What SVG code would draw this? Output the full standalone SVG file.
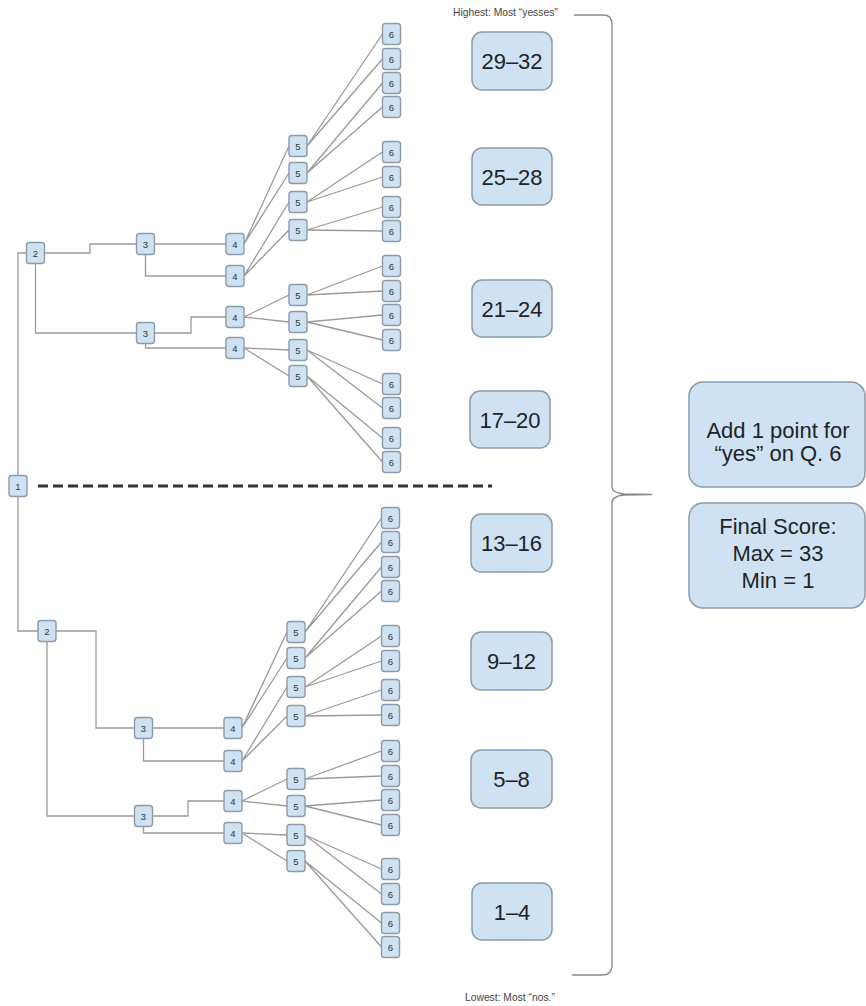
<svg xmlns="http://www.w3.org/2000/svg" width="866" height="1006" viewBox="0 0 866 1006">
<style>
.c{fill:none;stroke:#9a9a9a;stroke-width:1.3}
.n{fill:#cfe2f3;stroke:#8d9aa8;stroke-width:1.4}
.t{font-family:"Liberation Sans",Arial,sans-serif;font-size:9.5px;fill:#2e3640;text-anchor:middle}
.r{fill:#cfe2f3;stroke:#8d9aa8;stroke-width:1.5}
.rt{font-family:"Liberation Sans",Arial,sans-serif;font-size:22px;fill:#1f2328;text-anchor:middle}
.lab{font-family:"Liberation Sans",Arial,sans-serif;font-size:10.3px;fill:#444}
</style>
<rect width="866" height="1006" fill="#ffffff"/>
<g id="connectors">
<line x1="38" y1="486" x2="492" y2="486" stroke="#333" stroke-width="3" stroke-dasharray="10 5"/>
<path class="c" d="M18,475.5 V253 H26.5"/>
<path class="c" d="M44.5,253 H90 V244 H136.5"/>
<path class="c" d="M154.5,244 H226"/>
<path class="c" d="M145.5,254.5 V276 H226"/>
<path class="c" d="M35.5,263.5 V333 H136.5"/>
<path class="c" d="M154.5,333 H191 V317 H226"/>
<path class="c" d="M145.5,343.5 V348 H226"/>
<path class="c" d="M244,244 L289,146 M244,244 L289,173 M244,276 L289,202 M244,276 L289,230 M244,317 L289,295 M244,317 L289,322 M244,348 L289,350 M244,348 L289,376"/>
<path class="c" d="M307,146 L382.5,34 M307,146 L382.5,59 M307,173 L382.5,83 M307,173 L382.5,107 M307,202 L382.5,152 M307,202 L382.5,177 M307,230 L382.5,207 M307,230 L382.5,231 M307,295 L382.5,266 M307,295 L382.5,291 M307,322 L382.5,315 M307,322 L382.5,340 M307,350 L382.5,384 M307,350 L382.5,408 M307,376 L382.5,438 M307,376 L382.5,462"/>
<path class="c" d="M18,496.5 V631 H38"/>
<path class="c" d="M56,631 H96 V728 H134.5"/>
<path class="c" d="M152.5,728 H224"/>
<path class="c" d="M143.5,738.5 V761 H224"/>
<path class="c" d="M47,641.5 V816 H134.5"/>
<path class="c" d="M152.5,816 H188 V801 H224"/>
<path class="c" d="M143.5,826.5 V833 H224"/>
<path class="c" d="M242,728 L287,632 M242,728 L287,658 M242,761 L287,687 M242,761 L287,716 M242,801 L287,779 M242,801 L287,806 M242,833 L287,835 M242,833 L287,861"/>
<path class="c" d="M305,632 L381.5,518 M305,632 L381.5,542 M305,658 L381.5,567 M305,658 L381.5,591 M305,687 L381.5,636 M305,687 L381.5,661 M305,716 L381.5,690 M305,716 L381.5,715 M305,779 L381.5,751 M305,779 L381.5,776 M305,806 L381.5,800 M305,806 L381.5,825 M305,835 L381.5,869 M305,835 L381.5,894 M305,861 L381.5,923 M305,861 L381.5,947"/>
<path id="brace" d="M574,15 H603 Q612,15 612,24 V487 Q612,493 624,494 L652,494.5 L624,495 Q612,496 612,503 V965 Q612,975 602,975 H572" fill="none" stroke="#8a8a8a" stroke-width="1.3"/>
</g>
<g id="node1"><rect class="n" x="9" y="475.5" width="18" height="21" rx="3"/><text class="t" x="18" y="489.5">1</text></g>
<g id="node2a"><rect class="n" x="26.5" y="242.5" width="18" height="21" rx="3"/><text class="t" x="35.5" y="256.5">2</text></g>
<g id="node3a"><rect class="n" x="136.5" y="233.5" width="18" height="21" rx="3"/><text class="t" x="145.5" y="247.5">3</text></g>
<g id="node3b"><rect class="n" x="136.5" y="322.5" width="18" height="21" rx="3"/><text class="t" x="145.5" y="336.5">3</text></g>
<g id="node4a"><rect class="n" x="226" y="233.5" width="18" height="21" rx="3"/><text class="t" x="235" y="247.5">4</text></g>
<g id="node4b"><rect class="n" x="226" y="265.5" width="18" height="21" rx="3"/><text class="t" x="235" y="279.5">4</text></g>
<g id="node4c"><rect class="n" x="226" y="306.5" width="18" height="21" rx="3"/><text class="t" x="235" y="320.5">4</text></g>
<g id="node4d"><rect class="n" x="226" y="337.5" width="18" height="21" rx="3"/><text class="t" x="235" y="351.5">4</text></g>
<g id="node5a"><rect class="n" x="289" y="135.5" width="18" height="21" rx="3"/><text class="t" x="298" y="149.5">5</text></g>
<g id="node5b"><rect class="n" x="289" y="162.5" width="18" height="21" rx="3"/><text class="t" x="298" y="176.5">5</text></g>
<g id="node5c"><rect class="n" x="289" y="191.5" width="18" height="21" rx="3"/><text class="t" x="298" y="205.5">5</text></g>
<g id="node5d"><rect class="n" x="289" y="219.5" width="18" height="21" rx="3"/><text class="t" x="298" y="233.5">5</text></g>
<g id="node5e"><rect class="n" x="289" y="284.5" width="18" height="21" rx="3"/><text class="t" x="298" y="298.5">5</text></g>
<g id="node5f"><rect class="n" x="289" y="311.5" width="18" height="21" rx="3"/><text class="t" x="298" y="325.5">5</text></g>
<g id="node5g"><rect class="n" x="289" y="339.5" width="18" height="21" rx="3"/><text class="t" x="298" y="353.5">5</text></g>
<g id="node5h"><rect class="n" x="289" y="365.5" width="18" height="21" rx="3"/><text class="t" x="298" y="379.5">5</text></g>
<g id="node6a"><rect class="n" x="382.5" y="23.5" width="18" height="21" rx="3"/><text class="t" x="391.5" y="37.5">6</text></g>
<g id="node6b"><rect class="n" x="382.5" y="48.5" width="18" height="21" rx="3"/><text class="t" x="391.5" y="62.5">6</text></g>
<g id="node6c"><rect class="n" x="382.5" y="72.5" width="18" height="21" rx="3"/><text class="t" x="391.5" y="86.5">6</text></g>
<g id="node6d"><rect class="n" x="382.5" y="96.5" width="18" height="21" rx="3"/><text class="t" x="391.5" y="110.5">6</text></g>
<g id="node6e"><rect class="n" x="382.5" y="141.5" width="18" height="21" rx="3"/><text class="t" x="391.5" y="155.5">6</text></g>
<g id="node6f"><rect class="n" x="382.5" y="166.5" width="18" height="21" rx="3"/><text class="t" x="391.5" y="180.5">6</text></g>
<g id="node6g"><rect class="n" x="382.5" y="196.5" width="18" height="21" rx="3"/><text class="t" x="391.5" y="210.5">6</text></g>
<g id="node6h"><rect class="n" x="382.5" y="220.5" width="18" height="21" rx="3"/><text class="t" x="391.5" y="234.5">6</text></g>
<g id="node6i"><rect class="n" x="382.5" y="255.5" width="18" height="21" rx="3"/><text class="t" x="391.5" y="269.5">6</text></g>
<g id="node6j"><rect class="n" x="382.5" y="280.5" width="18" height="21" rx="3"/><text class="t" x="391.5" y="294.5">6</text></g>
<g id="node6k"><rect class="n" x="382.5" y="304.5" width="18" height="21" rx="3"/><text class="t" x="391.5" y="318.5">6</text></g>
<g id="node6l"><rect class="n" x="382.5" y="329.5" width="18" height="21" rx="3"/><text class="t" x="391.5" y="343.5">6</text></g>
<g id="node6m"><rect class="n" x="382.5" y="373.5" width="18" height="21" rx="3"/><text class="t" x="391.5" y="387.5">6</text></g>
<g id="node6n"><rect class="n" x="382.5" y="397.5" width="18" height="21" rx="3"/><text class="t" x="391.5" y="411.5">6</text></g>
<g id="node6o"><rect class="n" x="382.5" y="427.5" width="18" height="21" rx="3"/><text class="t" x="391.5" y="441.5">6</text></g>
<g id="node6p"><rect class="n" x="382.5" y="451.5" width="18" height="21" rx="3"/><text class="t" x="391.5" y="465.5">6</text></g>
<g id="node2b"><rect class="n" x="38" y="620.5" width="18" height="21" rx="3"/><text class="t" x="47" y="634.5">2</text></g>
<g id="node3c"><rect class="n" x="134.5" y="717.5" width="18" height="21" rx="3"/><text class="t" x="143.5" y="731.5">3</text></g>
<g id="node3d"><rect class="n" x="134.5" y="805.5" width="18" height="21" rx="3"/><text class="t" x="143.5" y="819.5">3</text></g>
<g id="node4e"><rect class="n" x="224" y="717.5" width="18" height="21" rx="3"/><text class="t" x="233" y="731.5">4</text></g>
<g id="node4f"><rect class="n" x="224" y="750.5" width="18" height="21" rx="3"/><text class="t" x="233" y="764.5">4</text></g>
<g id="node4g"><rect class="n" x="224" y="790.5" width="18" height="21" rx="3"/><text class="t" x="233" y="804.5">4</text></g>
<g id="node4h"><rect class="n" x="224" y="822.5" width="18" height="21" rx="3"/><text class="t" x="233" y="836.5">4</text></g>
<g id="node5i"><rect class="n" x="287" y="621.5" width="18" height="21" rx="3"/><text class="t" x="296" y="635.5">5</text></g>
<g id="node5j"><rect class="n" x="287" y="647.5" width="18" height="21" rx="3"/><text class="t" x="296" y="661.5">5</text></g>
<g id="node5k"><rect class="n" x="287" y="676.5" width="18" height="21" rx="3"/><text class="t" x="296" y="690.5">5</text></g>
<g id="node5l"><rect class="n" x="287" y="705.5" width="18" height="21" rx="3"/><text class="t" x="296" y="719.5">5</text></g>
<g id="node5m"><rect class="n" x="287" y="768.5" width="18" height="21" rx="3"/><text class="t" x="296" y="782.5">5</text></g>
<g id="node5n"><rect class="n" x="287" y="795.5" width="18" height="21" rx="3"/><text class="t" x="296" y="809.5">5</text></g>
<g id="node5o"><rect class="n" x="287" y="824.5" width="18" height="21" rx="3"/><text class="t" x="296" y="838.5">5</text></g>
<g id="node5p"><rect class="n" x="287" y="850.5" width="18" height="21" rx="3"/><text class="t" x="296" y="864.5">5</text></g>
<g id="node6q"><rect class="n" x="381.5" y="507.5" width="18" height="21" rx="3"/><text class="t" x="390.5" y="521.5">6</text></g>
<g id="node6r"><rect class="n" x="381.5" y="531.5" width="18" height="21" rx="3"/><text class="t" x="390.5" y="545.5">6</text></g>
<g id="node6s"><rect class="n" x="381.5" y="556.5" width="18" height="21" rx="3"/><text class="t" x="390.5" y="570.5">6</text></g>
<g id="node6t"><rect class="n" x="381.5" y="580.5" width="18" height="21" rx="3"/><text class="t" x="390.5" y="594.5">6</text></g>
<g id="node6u"><rect class="n" x="381.5" y="625.5" width="18" height="21" rx="3"/><text class="t" x="390.5" y="639.5">6</text></g>
<g id="node6v"><rect class="n" x="381.5" y="650.5" width="18" height="21" rx="3"/><text class="t" x="390.5" y="664.5">6</text></g>
<g id="node6w"><rect class="n" x="381.5" y="679.5" width="18" height="21" rx="3"/><text class="t" x="390.5" y="693.5">6</text></g>
<g id="node6x"><rect class="n" x="381.5" y="704.5" width="18" height="21" rx="3"/><text class="t" x="390.5" y="718.5">6</text></g>
<g id="node6y"><rect class="n" x="381.5" y="740.5" width="18" height="21" rx="3"/><text class="t" x="390.5" y="754.5">6</text></g>
<g id="node6z"><rect class="n" x="381.5" y="765.5" width="18" height="21" rx="3"/><text class="t" x="390.5" y="779.5">6</text></g>
<g id="node6aa"><rect class="n" x="381.5" y="789.5" width="18" height="21" rx="3"/><text class="t" x="390.5" y="803.5">6</text></g>
<g id="node6ab"><rect class="n" x="381.5" y="814.5" width="18" height="21" rx="3"/><text class="t" x="390.5" y="828.5">6</text></g>
<g id="node6ac"><rect class="n" x="381.5" y="858.5" width="18" height="21" rx="3"/><text class="t" x="390.5" y="872.5">6</text></g>
<g id="node6ad"><rect class="n" x="381.5" y="883.5" width="18" height="21" rx="3"/><text class="t" x="390.5" y="897.5">6</text></g>
<g id="node6ae"><rect class="n" x="381.5" y="912.5" width="18" height="21" rx="3"/><text class="t" x="390.5" y="926.5">6</text></g>
<g id="node6af"><rect class="n" x="381.5" y="936.5" width="18" height="21" rx="3"/><text class="t" x="390.5" y="950.5">6</text></g>
<g id="range29"><rect class="r" x="472" y="32" width="80" height="58" rx="10"/><text class="rt" x="512" y="69">29–32</text></g>
<g id="range25"><rect class="r" x="472" y="148" width="80" height="57" rx="10"/><text class="rt" x="512" y="184.5">25–28</text></g>
<g id="range21"><rect class="r" x="472" y="280" width="80" height="57" rx="10"/><text class="rt" x="512" y="316.5">21–24</text></g>
<g id="range17"><rect class="r" x="470" y="391" width="80" height="57" rx="10"/><text class="rt" x="510" y="427.5">17–20</text></g>
<g id="range13"><rect class="r" x="471" y="514" width="81" height="58" rx="10"/><text class="rt" x="511.5" y="551">13–16</text></g>
<g id="range9"><rect class="r" x="471" y="632" width="81" height="58" rx="10"/><text class="rt" x="511.5" y="669">9–12</text></g>
<g id="range5"><rect class="r" x="471" y="750" width="81" height="58" rx="10"/><text class="rt" x="511.5" y="787">5–8</text></g>
<g id="range1"><rect class="r" x="472" y="883" width="80" height="57" rx="10"/><text class="rt" x="512" y="919.5">1–4</text></g>
<g id="addpoint"><rect class="r" x="689" y="382" width="176" height="105" rx="14"/><text class="rt" x="778" y="438">Add 1 point for</text><text class="rt" x="778" y="461">“yes” on Q. 6</text></g>
<g id="finalscore"><rect class="r" x="689" y="503" width="176" height="105" rx="14"/><text class="rt" x="778" y="534">Final Score:</text><text class="rt" x="778" y="561">Max = 33</text><text class="rt" x="778" y="588">Min = 1</text></g>
<text class="lab" x="453" y="15.5">Highest: Most “yesses”</text>
<text class="lab" x="465" y="1001">Lowest: Most “nos.”</text>
</svg>
